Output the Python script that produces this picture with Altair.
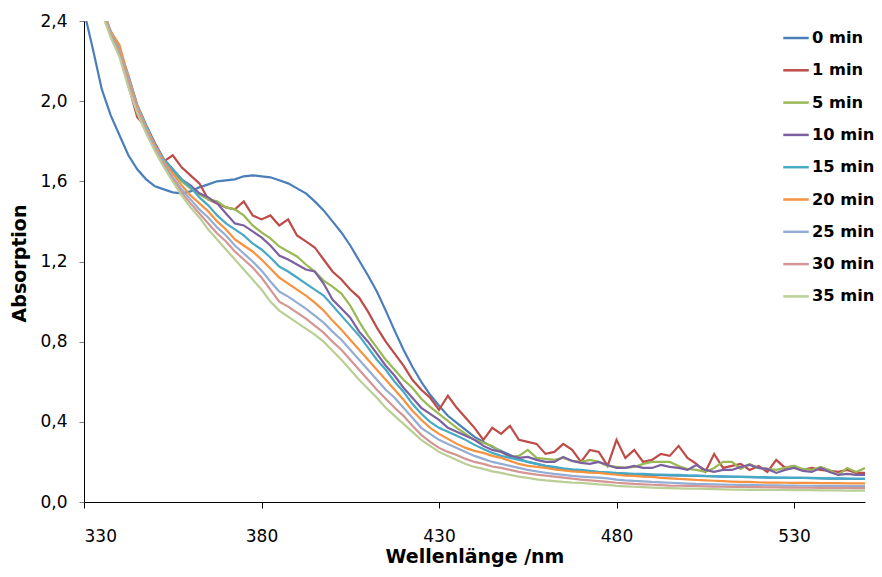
import altair as alt
import pandas as pd

wavelength = [330, 332.5, 335, 337.5, 340, 342.5, 345, 347.5, 350, 352.5,
              355, 357.5, 360, 362.5, 365, 367.5, 370, 372.5, 375, 377.5,
              380, 382.5, 385, 387.5, 390, 392.5, 395, 397.5, 400, 402.5,
              405, 407.5, 410, 412.5, 415, 417.5, 420, 422.5, 425, 427.5,
              430, 432.5, 435, 437.5, 440, 442.5, 445, 447.5, 450, 452.5,
              455, 457.5, 460, 462.5, 465, 467.5, 470, 472.5, 475, 477.5,
              480, 482.5, 485, 487.5, 490, 492.5, 495, 497.5, 500, 502.5,
              505, 507.5, 510, 512.5, 515, 517.5, 520, 522.5, 525, 527.5,
              530, 532.5, 535, 537.5, 540, 542.5, 545, 547.5, 550]

min0 = [2.45, 2.26, 2.06, 1.93, 1.83, 1.73, 1.66, 1.61, 1.575, 1.56,
        1.545, 1.54, 1.55, 1.57, 1.585, 1.60, 1.605, 1.61, 1.625, 1.63,
        1.625, 1.62, 1.605, 1.59, 1.565, 1.54, 1.50, 1.455, 1.40, 1.345,
        1.28, 1.205, 1.13, 1.05, 0.955, 0.855, 0.76, 0.675, 0.60, 0.535,
        0.48, 0.43, 0.395, 0.36, 0.325, 0.30, 0.275, 0.255, 0.235, 0.215,
        0.20, 0.19, 0.18, 0.172, 0.165, 0.16, 0.155, 0.15, 0.147, 0.145,
        0.142, 0.14, 0.138, 0.136, 0.135, 0.134, 0.133, 0.132, 0.131, 0.13,
        0.129, 0.128, 0.127, 0.126, 0.125, 0.124, 0.123, 0.122, 0.121, 0.121,
        0.12, 0.12, 0.119, 0.118, 0.117, 0.117, 0.116, 0.115, 0.115]

min1 = [3.0, 2.70, 2.46, 2.33, 2.24, 2.08, 1.92, 1.87, 1.78, 1.70,
        1.73, 1.67, 1.63, 1.59, 1.51, 1.49, 1.47, 1.46, 1.50, 1.43,
        1.41, 1.43, 1.38, 1.41, 1.33, 1.30, 1.27, 1.21, 1.15, 1.11,
        1.06, 1.02, 0.95, 0.87, 0.80, 0.74, 0.68, 0.61, 0.56, 0.52,
        0.46, 0.53, 0.47, 0.42, 0.37, 0.31, 0.37, 0.34, 0.38, 0.31,
        0.30, 0.29, 0.24, 0.25, 0.29, 0.26, 0.20, 0.26, 0.25, 0.18,
        0.31, 0.22, 0.26, 0.20, 0.21, 0.24, 0.23, 0.28, 0.22, 0.19,
        0.15, 0.24, 0.17, 0.18, 0.19, 0.16, 0.18, 0.15, 0.21, 0.17,
        0.18, 0.16, 0.17, 0.16, 0.155, 0.15, 0.16, 0.145, 0.145]

min5 = [3.0, 2.68, 2.46, 2.34, 2.25, 2.11, 1.97, 1.87, 1.78, 1.70,
        1.65, 1.60, 1.565, 1.535, 1.51, 1.50, 1.47, 1.46, 1.43, 1.38,
        1.345, 1.315, 1.275, 1.25, 1.225, 1.185, 1.15, 1.105, 1.075, 1.04,
        0.98, 0.90, 0.83, 0.77, 0.71, 0.66, 0.61, 0.57, 0.515, 0.475,
        0.44, 0.405, 0.37, 0.34, 0.31, 0.295, 0.28, 0.25, 0.225, 0.23,
        0.26, 0.22, 0.215, 0.21, 0.22, 0.205, 0.20, 0.21, 0.20, 0.18,
        0.175, 0.17, 0.175, 0.19, 0.20, 0.20, 0.20, 0.18, 0.165, 0.16,
        0.15, 0.17, 0.20, 0.20, 0.165, 0.19, 0.17, 0.165, 0.16, 0.17,
        0.18, 0.165, 0.16, 0.175, 0.16, 0.135, 0.17, 0.15, 0.17]

min10 = [3.0, 2.70, 2.47, 2.34, 2.25, 2.12, 1.98, 1.88, 1.79, 1.71,
         1.66, 1.61, 1.58, 1.54, 1.52, 1.49, 1.44, 1.39, 1.38, 1.35,
         1.32, 1.28, 1.23, 1.21, 1.185, 1.16, 1.15, 1.09, 1.01, 0.965,
         0.92, 0.85, 0.80, 0.74, 0.68, 0.63, 0.57, 0.52, 0.47, 0.44,
         0.41, 0.37, 0.35, 0.33, 0.31, 0.28, 0.26, 0.25, 0.23, 0.22,
         0.225, 0.21, 0.20, 0.20, 0.225, 0.205, 0.195, 0.19, 0.20, 0.185,
         0.17, 0.17, 0.18, 0.17, 0.17, 0.185, 0.175, 0.17, 0.16, 0.185,
         0.16, 0.15, 0.16, 0.16, 0.175, 0.185, 0.17, 0.165, 0.145, 0.16,
         0.17, 0.155, 0.15, 0.17, 0.15, 0.135, 0.14, 0.135, 0.135]

min15 = [3.0, 2.70, 2.47, 2.35, 2.26, 2.13, 1.98, 1.88, 1.78, 1.71,
         1.66, 1.61, 1.57, 1.52, 1.48, 1.43, 1.39, 1.36, 1.33, 1.29,
         1.26, 1.22, 1.175, 1.15, 1.12, 1.09, 1.06, 1.03, 0.98, 0.93,
         0.88, 0.83, 0.77, 0.71, 0.66, 0.60, 0.55, 0.49, 0.44, 0.40,
         0.37, 0.35, 0.33, 0.31, 0.285, 0.265, 0.245, 0.23, 0.22, 0.21,
         0.20, 0.19, 0.18, 0.175, 0.168, 0.163, 0.16, 0.155, 0.15, 0.148,
         0.145, 0.143, 0.14, 0.14, 0.138, 0.137, 0.136, 0.135, 0.133, 0.132,
         0.13, 0.129, 0.128, 0.127, 0.125, 0.125, 0.124, 0.123, 0.122, 0.122,
         0.121, 0.12, 0.12, 0.119, 0.118, 0.118, 0.117, 0.116, 0.115]

min20 = [3.0, 2.70, 2.47, 2.35, 2.28, 2.12, 1.98, 1.87, 1.78, 1.70,
         1.64, 1.58, 1.53, 1.49, 1.45, 1.40, 1.36, 1.31, 1.28, 1.25,
         1.21, 1.165, 1.12, 1.09, 1.06, 1.03, 0.995, 0.955, 0.905, 0.86,
         0.81, 0.76, 0.71, 0.66, 0.61, 0.56, 0.51, 0.455, 0.41, 0.37,
         0.34, 0.315, 0.29, 0.27, 0.255, 0.245, 0.23, 0.22, 0.205, 0.19,
         0.18, 0.175, 0.17, 0.163, 0.158, 0.153, 0.15, 0.147, 0.145, 0.14,
         0.136, 0.132, 0.13, 0.127, 0.125, 0.12, 0.118, 0.115, 0.113, 0.11,
         0.108, 0.106, 0.104, 0.102, 0.10, 0.10, 0.098, 0.097, 0.097, 0.096,
         0.095, 0.095, 0.095, 0.094, 0.094, 0.094, 0.093, 0.093, 0.093]

min25 = [3.0, 2.69, 2.46, 2.34, 2.25, 2.11, 1.97, 1.86, 1.77, 1.69,
         1.62, 1.56, 1.51, 1.46, 1.42, 1.37, 1.33, 1.28, 1.24, 1.20,
         1.155, 1.10, 1.05, 1.025, 0.995, 0.965, 0.93, 0.895, 0.85, 0.81,
         0.76, 0.71, 0.66, 0.61, 0.56, 0.52, 0.47, 0.42, 0.37, 0.34,
         0.31, 0.29, 0.27, 0.25, 0.23, 0.215, 0.20, 0.19, 0.18, 0.17,
         0.16, 0.153, 0.146, 0.14, 0.135, 0.13, 0.127, 0.124, 0.122, 0.118,
         0.112, 0.108, 0.105, 0.103, 0.10, 0.098, 0.096, 0.094, 0.092, 0.09,
         0.089, 0.088, 0.087, 0.086, 0.085, 0.085, 0.084, 0.083, 0.083, 0.082,
         0.082, 0.081, 0.081, 0.08, 0.08, 0.08, 0.079, 0.079, 0.079]

min30 = [3.0, 2.68, 2.45, 2.33, 2.24, 2.10, 1.96, 1.85, 1.76, 1.68,
         1.61, 1.545, 1.49, 1.44, 1.39, 1.34, 1.30, 1.25, 1.21, 1.17,
         1.12, 1.06, 1.00, 0.975, 0.945, 0.915, 0.88, 0.845, 0.80, 0.76,
         0.71, 0.66, 0.61, 0.56, 0.515, 0.47, 0.43, 0.38, 0.335, 0.30,
         0.27, 0.25, 0.235, 0.215, 0.20, 0.19, 0.177, 0.17, 0.16, 0.15,
         0.143, 0.137, 0.132, 0.127, 0.122, 0.117, 0.112, 0.108, 0.104, 0.10,
         0.096, 0.093, 0.09, 0.088, 0.086, 0.084, 0.082, 0.081, 0.08, 0.079,
         0.078, 0.077, 0.076, 0.075, 0.075, 0.074, 0.074, 0.073, 0.073, 0.072,
         0.072, 0.071, 0.071, 0.07, 0.07, 0.07, 0.07, 0.069, 0.069]

min35 = [3.0, 2.66, 2.44, 2.32, 2.22, 2.07, 1.94, 1.84, 1.75, 1.67,
         1.60, 1.53, 1.47, 1.42, 1.36, 1.31, 1.26, 1.21, 1.16, 1.11,
         1.06, 1.00, 0.955, 0.925, 0.895, 0.865, 0.835, 0.80, 0.755, 0.71,
         0.66, 0.61, 0.565, 0.52, 0.47, 0.43, 0.39, 0.35, 0.31, 0.28,
         0.25, 0.23, 0.21, 0.19, 0.175, 0.165, 0.153, 0.145, 0.135, 0.127,
         0.12, 0.113, 0.108, 0.104, 0.10, 0.097, 0.095, 0.092, 0.088, 0.085,
         0.08, 0.078, 0.076, 0.074, 0.072, 0.07, 0.069, 0.068, 0.067, 0.066,
         0.065, 0.064, 0.063, 0.062, 0.062, 0.061, 0.061, 0.06, 0.06, 0.06,
         0.059, 0.059, 0.059, 0.058, 0.058, 0.058, 0.057, 0.057, 0.057]

series_names = ["0 min", "1 min", "5 min", "10 min", "15 min",
                "20 min", "25 min", "30 min", "35 min"]
series_values = [min0, min1, min5, min10, min15, min20, min25, min30, min35]
series_colors = ["#4A7EBB", "#BE4B48", "#98B954", "#7D60A0", "#46AAC5",
                 "#F69240", "#93ADD4", "#D49594", "#B9CF96"]

x_ticks = [330, 380, 430, 480, 530]
y_ticks = [0.0, 0.4, 0.8, 1.2, 1.6, 2.0, 2.4]

rows = []
for name, vals in zip(series_names, series_values):
    for w, v in zip(wavelength, vals):
        rows.append({"series": name, "wl": w, "absorption": v})
df = pd.DataFrame(rows)

FONT = "DejaVu Sans"

chart = alt.Chart(df).mark_line(clip=True, strokeWidth=2.2).encode(
    x=alt.X("wl:Q",
            scale=alt.Scale(domain=[330, 550], nice=False, zero=False),
            axis=alt.Axis(values=x_ticks, title="Wellenlänge /nm", grid=False,
                          tickSize=6, tickColor="#000000",
                          labelBaseline="alphabetic", labelPadding=33,
                          titleX=390.5, titleY=60, titleBaseline="alphabetic")),
    y=alt.Y("absorption:Q",
            scale=alt.Scale(domain=[0, 2.4], nice=False, zero=True),
            axis=alt.Axis(values=y_ticks, title="Absorption", grid=False,
                          tickSize=5, tickColor="#7f7f7f", labelPadding=12,
                          labelExpr="replace(format(datum.value, '.1f'), '.', ',')",
                          titleAngle=270, titleX=-59, titleY=242,
                          titleBaseline="alphabetic", titleAlign="center")),
    color=alt.Color("series:N",
                    scale=alt.Scale(domain=series_names, range=series_colors),
                    sort=series_names,
                    legend=alt.Legend(title=None, orient="none", legendX=698, legendY=3,
                                      symbolType="stroke", symbolSize=650,
                                      symbolStrokeWidth=2.5, labelFont=FONT,
                                      labelFontWeight="bold", labelFontSize=16.3,
                                      labelColor="#000000", labelOffset=2,
                                      rowPadding=9.3, padding=0, labelLimit=200)),
).properties(
    width=781, height=481,
    padding={"left": 76, "top": 13, "right": 9, "bottom": 66},
    autosize=alt.AutoSizeParams(type="none"),
).configure_view(
    stroke=None
).configure_axis(
    domainColor="#000000", domainWidth=1,
    labelFont=FONT, labelFontSize=17, labelColor="#000000",
    titleFont=FONT, titleFontSize=19, titleFontWeight="bold", titleColor="#000000",
)

chart.save("out.html", embed_options={"renderer": "svg", "actions": False})
